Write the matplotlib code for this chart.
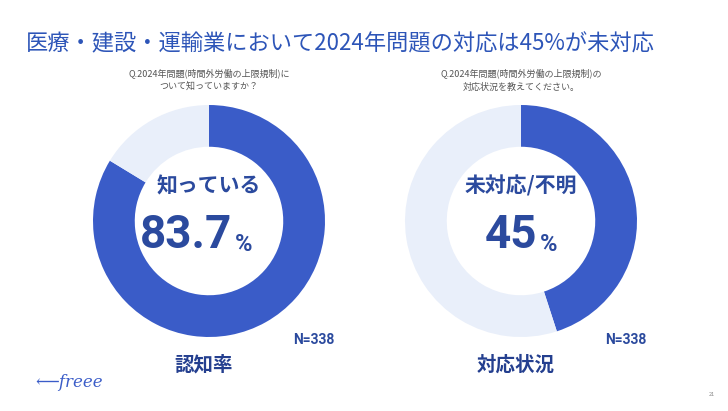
import matplotlib.pyplot as plt

plt.rcParams['font.family'] = ['Noto Sans CJK JP', 'DejaVu Sans']

DARK = '#3a5cc8'
LIGHT = '#e9effa'
TEXT = '#2b4a9e'

title = '医療・建設・運輸業において2024年問題の対応は45%が未対応'
questions = ['Q.2024年問題(時間外労働の上限規制)に\nついて知っていますか？',
             'Q.2024年問題(時間外労働の上限規制)の\n対応状況を教えてください。']
center_labels = ['知っている', '未対応/不明']
values = [83.7, 45]
value_text = ['83.7', '45']
bottom_labels = ['認知率', '対応状況']
n_text = ['N=338', 'N=338']

W, H = 728, 411
fig = plt.figure(figsize=(W / 100, H / 100), dpi=100)
fig.patch.set_facecolor('white')

fig.text(26 / W, 1 - 44 / H, title, fontsize=16, color='#2d55b8', va='center')

centers = [209, 521]
R = 116
for i, cx in enumerate(centers):
    cy = 221
    ax = fig.add_axes([(cx - R) / W, 1 - (cy + R) / H, 2 * R / W, 2 * R / H])
    ax.pie([values[i], 100 - values[i]], colors=[DARK, LIGHT], startangle=90,
           counterclock=False, radius=1, frame=False,
           wedgeprops=dict(width=0.36, edgecolor='none'))
    ax.set_xlim(-1, 1)
    ax.set_ylim(-1, 1)
    ax.set_aspect('equal')
    ax.axis('off')
    ax.text(0, 0.3, center_labels[i], ha='center', va='center', fontsize=15,
            fontweight='bold', color=TEXT)
    shift = 0.2 if i == 0 else 0.14
    ax.text(shift, -0.12, value_text[i], ha='right', va='center', fontsize=33,
            fontweight='bold', color=TEXT, family='Roboto')
    ax.text(shift + 0.02, -0.2, '%', ha='left', va='center', fontsize=17,
            fontweight='bold', color=TEXT, family='Roboto')
    fig.text(cx / W, 1 - 80 / H, questions[i], ha='center', va='center',
             fontsize=6.5, color='#555555', linespacing=1.6)
    fig.text((cx + 105) / W, 1 - 340 / H, n_text[i], ha='center', va='center',
             fontsize=10, fontweight='bold', color=TEXT, family='Roboto')
    fig.text((cx - 5) / W, 1 - 365 / H, bottom_labels[i], ha='center', va='center',
             fontsize=14, fontweight='bold', color='#243f8f')

fig.text(35 / W, 1 - 382 / H, '⟵freee', fontsize=12, style='italic',
         color='#3a5cc8', va='center', family='DejaVu Serif')
fig.text(712 / W, 1 - 396 / H, '21', fontsize=4, color='#888888', ha='center')

fig.savefig('out.png', dpi=100)
